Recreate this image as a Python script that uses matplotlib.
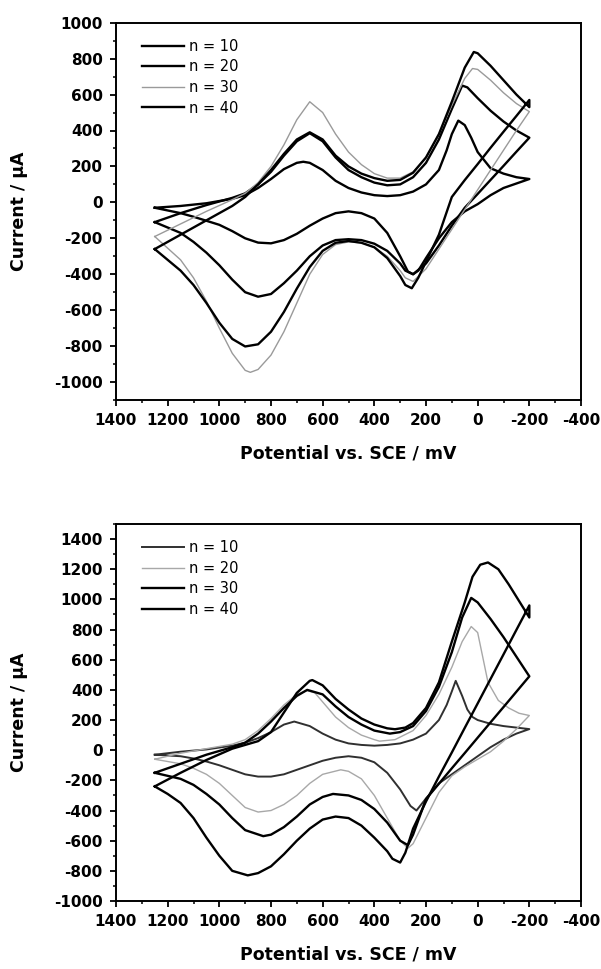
import matplotlib
matplotlib.use("Agg")
import matplotlib.pyplot as plt
from matplotlib.ticker import MultipleLocator

plt.rcParams['font.family'] = ['DejaVu Sans']
plt.rcParams['axes.unicode_minus'] = False

labels = ["n = 10", "n = 20", "n = 30", "n = 40"]

# ---------------- Top panel data (potential mV, current uA) ----------------
top_n10_x = [1250, 1150, 1050, 950, 900, 850, 800, 750, 700, 675, 650, 600, 550, 500, 450, 400, 350, 300, 250, 200, 150, 120, 100, 75, 50, 25, 0, -50, -100, -150, -200,
             -150, -100, -50, 0, 50, 100, 150, 200, 230, 250, 270, 300, 350, 400, 450, 500, 550, 600, 650, 700, 750, 800, 850, 900, 950, 1000, 1100, 1150, 1250]
top_n10_y = [-30, -20, -5, 20, 40, 80, 130, 185, 220, 226, 220, 180, 120, 80, 55, 40, 35, 40, 60, 100, 180, 290, 380, 455, 430, 360, 280, 190, 160, 140, 130,
             105, 80, 40, -10, -50, -110, -200, -310, -380, -400, -385, -300, -170, -90, -60, -50, -60, -90, -130, -175, -210, -228, -224, -200, -160, -125, -80, -60, -30]

top_n20_x = [1250, 1150, 1050, 950, 900, 850, 800, 750, 700, 650, 600, 550, 500, 450, 400, 350, 300, 250, 200, 150, 100, 60, 40, 0, -50, -100, -150, -200,
             -150, -100, -50, 0, 50, 100, 150, 200, 250, 280, 300, 350, 400, 450, 500, 550, 600, 650, 700, 750, 800, 850, 900, 950, 1000, 1050, 1100, 1150, 1250]
top_n20_y = [-110, -60, -15, 25, 50, 100, 170, 260, 340, 385, 340, 250, 180, 140, 110, 95, 100, 140, 220, 350, 520, 650, 640, 580, 510, 450, 400, 360,
             282, 203, 125, 47, -30, -130, -240, -340, -400, -380, -340, -270, -230, -210, -205, -210, -240, -300, -380, -450, -510, -525, -500, -430, -350, -280, -220, -170, -110]

top_n30_x = [1250, 1150, 1050, 950, 900, 850, 800, 750, 700, 650, 600, 550, 500, 450, 400, 350, 300, 250, 200, 150, 100, 50, 20, 0, -50, -100, -150, -200,
             -150, -100, -50, 0, 50, 100, 150, 200, 250, 280, 300, 350, 400, 450, 500, 550, 600, 650, 700, 750, 800, 850, 880, 900, 950, 1000, 1050, 1100, 1150, 1250]
top_n30_y = [-190, -120, -50, 15, 50, 110, 200, 320, 460, 560, 500, 380, 280, 210, 160, 135, 135, 170, 250, 380, 540, 690, 745, 740, 680, 610, 550, 505,
             400, 290, 180, 70, -40, -150, -260, -370, -440, -420, -380, -300, -250, -225, -220, -235, -290, -400, -560, -720, -850, -930, -946, -935, -840, -700, -550, -420, -320, -190]

top_n40_x = [1250, 1150, 1050, 950, 900, 850, 800, 750, 700, 650, 600, 550, 500, 450, 400, 350, 300, 250, 200, 150, 100, 50, 15, 0, -50, -100, -150, -200,
             -200, -150, -100, -50, 0, 50, 100, 150, 200, 230, 255, 280, 300, 350, 400, 450, 500, 550, 600, 650, 700, 750, 800, 850, 900, 950, 1000, 1050, 1100, 1150, 1250]
top_n40_y = [-260, -180, -100, -20, 30, 100, 180, 270, 350, 390, 350, 260, 200, 160, 135, 120, 125, 165, 250, 380, 560, 750, 837, 830, 760, 680, 600, 530,
             570, 481, 393, 304, 213, 124, 30, -180, -330, -420, -478, -460, -410, -310, -250, -225, -215, -225, -270, -360, -480, -610, -720, -790, -802, -760, -670, -560, -460, -380, -260]

# ---------------- Bottom panel data ----------------
bot_n10_x = [1250, 1150, 1050, 950, 900, 850, 800, 750, 710, 650, 600, 550, 500, 450, 400, 350, 300, 250, 200, 150, 120, 100, 85, 60, 40, 20, 0, -50, -100, -150, -200,
             -150, -100, -50, 0, 50, 100, 150, 200, 237, 260, 300, 350, 400, 450, 500, 550, 600, 650, 700, 750, 800, 850, 900, 950, 1000, 1050, 1100, 1150, 1250]
bot_n10_y = [-30, -10, 5, 30, 50, 80, 120, 170, 190, 160, 110, 70, 45, 35, 30, 35, 45, 70, 110, 200, 300, 390, 460, 360, 270, 220, 200, 175, 160, 150, 140,
             110, 70, 20, -40, -100, -160, -220, -320, -400, -370, -260, -150, -80, -50, -40, -50, -70, -100, -130, -160, -175, -175, -160, -130, -100, -75, -55, -40, -30]

bot_n20_x = [1250, 1150, 1050, 950, 900, 850, 800, 750, 700, 660, 630, 600, 550, 500, 450, 400, 380, 320, 250, 200, 150, 100, 60, 25, 0, -40, -80, -120, -160, -200,
             -150, -100, -50, 0, 50, 100, 150, 200, 250, 270, 300, 350, 400, 450, 500, 530, 600, 650, 700, 750, 800, 850, 900, 950, 1000, 1050, 1100, 1150, 1250]
bot_n20_y = [-60, -20, 10, 40, 70, 130, 210, 300, 370, 395, 380, 320, 220, 150, 100, 70, 60, 70, 130, 230, 370, 550, 720, 820, 780, 450, 330, 280, 245, 230,
             140, 60, -10, -60, -110, -170, -280, -450, -620, -650, -600, -450, -300, -190, -140, -130, -160, -220, -300, -360, -400, -410, -380, -300, -220, -160, -120, -90, -60]

bot_n30_x = [1250, 1150, 1050, 950, 900, 850, 800, 750, 700, 660, 600, 550, 500, 450, 400, 340, 300, 250, 200, 150, 100, 60, 25, 0, -50, -100, -150, -200,
             -150, -100, -50, 0, 50, 100, 150, 200, 250, 270, 300, 350, 400, 450, 500, 560, 600, 650, 700, 750, 800, 830, 900, 950, 1000, 1050, 1100, 1150, 1250]
bot_n30_y = [-150, -90, -30, 20, 50, 110, 190, 280, 360, 400, 370, 290, 220, 170, 130, 110, 120, 160, 260, 420, 650, 880, 1010, 980, 870, 750, 620, 490,
             388, 286, 185, 83, -19, -120, -222, -324, -560, -630, -600, -480, -390, -330, -300, -290, -310, -360, -440, -510, -560, -570, -530, -450, -360, -290, -230, -190, -150]

bot_n40_x = [1250, 1150, 1050, 950, 850, 800, 750, 700, 650, 640, 600, 550, 500, 450, 400, 350, 320, 280, 250, 200, 150, 100, 50, 20, -10, -40, -80, -120, -160, -200,
             -200, -150, -100, -50, 0, 50, 100, 150, 200, 250, 280, 300, 330, 350, 400, 450, 500, 550, 600, 650, 700, 750, 800, 850, 890, 950, 1000, 1050, 1100, 1150, 1200, 1250]
bot_n40_y = [-240, -150, -65, 10, 60, 120, 250, 380, 460, 465, 430, 340, 270, 210, 170, 145, 139, 150, 180, 280, 450, 720, 980, 1150, 1230, 1245, 1200, 1100, 990, 880,
             960, 798, 635, 473, 310, 148, -15, -175, -340, -520, -680, -745, -720, -670, -580, -500, -450, -440, -460, -520, -600, -690, -770, -815, -830, -800, -700, -580, -450, -350, -290, -240]

top_curves = [(top_n10_x, top_n10_y), (top_n20_x, top_n20_y), (top_n30_x, top_n30_y), (top_n40_x, top_n40_y)]
bot_curves = [(bot_n10_x, bot_n10_y), (bot_n20_x, bot_n20_y), (bot_n30_x, bot_n30_y), (bot_n40_x, bot_n40_y)]

top_styles = [dict(color='black', lw=1.7), dict(color='black', lw=1.7),
              dict(color='#9a9a9a', lw=1.0), dict(color='black', lw=1.7)]
bot_styles = [dict(color='#303030', lw=1.4), dict(color='#a8a8a8', lw=1.0),
              dict(color='black', lw=1.7), dict(color='black', lw=1.7)]

W, H = 601, 969
fig = plt.figure(figsize=(W / 100, H / 100), dpi=100)

def make_axes(top_px, bottom_px):
    left, right = 116, 581
    return fig.add_axes([left / W, 1 - bottom_px / H, (right - left) / W, (bottom_px - top_px) / H])

ax1 = make_axes(22.7, 400)
ax2 = make_axes(524, 901)

def style(ax, ylim, ymajor):
    ax.set_xlim(1400, -400)
    ax.set_ylim(*ylim)
    ax.xaxis.set_major_locator(MultipleLocator(200))
    ax.xaxis.set_minor_locator(MultipleLocator(100))
    ax.yaxis.set_major_locator(MultipleLocator(ymajor))
    ax.yaxis.set_minor_locator(MultipleLocator(ymajor / 2))
    ax.tick_params(which='major', direction='out', length=4.5, width=1.3, pad=5,
                   labelsize=11, top=False, right=False)
    ax.tick_params(which='minor', direction='out', length=2.5, width=1.1,
                   top=False, right=False)
    for lab in ax.get_xticklabels() + ax.get_yticklabels():
        lab.set_fontweight('bold')
    for sp in ax.spines.values():
        sp.set_linewidth(1.4)
    ax.set_xlabel("Potential vs. SCE / mV", fontsize=12.5, fontweight='bold', labelpad=12)
    ax.set_ylabel("Current / \u03bcA", fontsize=12.5, fontweight='bold', labelpad=8)

for (x, y), st, lab in zip(top_curves, top_styles, labels):
    ax1.plot(x, y, label=lab, **st)
for (x, y), st, lab in zip(bot_curves, bot_styles, labels):
    ax2.plot(x, y, label=lab, **st)

style(ax1, (-1100, 1000), 200)
style(ax2, (-1000, 1500), 200)

for ax in (ax1, ax2):
    ax.legend(loc='upper left', bbox_to_anchor=(0.056, 0.957), frameon=False,
              borderpad=0, borderaxespad=0, handlelength=2.9, handletextpad=0.35,
              labelspacing=0.38, fontsize=10.5)
    ax.yaxis.set_label_coords(-0.19, 0.5)

fig.savefig("out.png", dpi=100)
